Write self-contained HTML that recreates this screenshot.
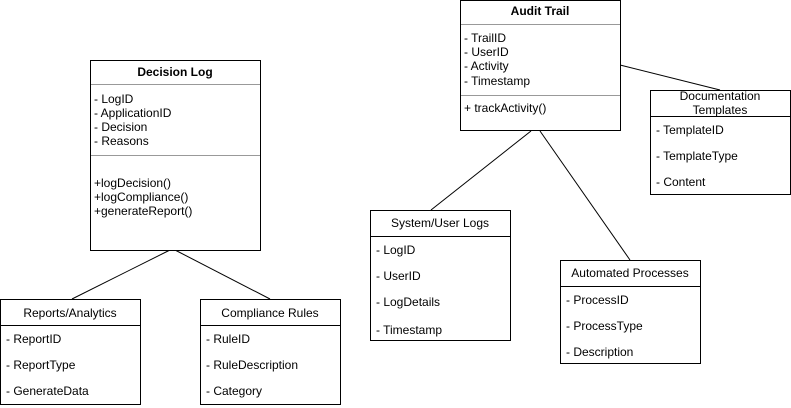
<!DOCTYPE html>
<html><head><meta charset="utf-8"><style>
html,body{margin:0;padding:0;background:#fff;}
svg{display:block;}
text{font-family:"Liberation Sans",Arial,sans-serif;font-size:12px;fill:#000;}
.b{font-weight:bold;}
</style></head><body>
<svg width="791" height="408" viewBox="0 0 791 408" xmlns="http://www.w3.org/2000/svg">
<g stroke="#000" stroke-width="1" fill="none">
<line x1="170" y1="250" x2="72" y2="299"/>
<line x1="175" y1="250" x2="270" y2="299"/>
<line x1="620" y1="65" x2="720" y2="90"/>
<line x1="531" y1="131" x2="431" y2="210"/>
<line x1="540" y1="131" x2="630" y2="260"/>
</g>
<g stroke="#000" stroke-width="1" fill="#fff">
<rect x="90.5" y="60.5" width="170" height="190"/>
<rect x="0.5" y="299.5" width="140" height="105"/>
<rect x="200.5" y="299.5" width="140" height="105"/>
<rect x="460.5" y="0.5" width="160" height="130"/>
<rect x="650.5" y="90.5" width="140" height="104"/>
<rect x="370.5" y="210.5" width="140" height="130"/>
<rect x="560.5" y="260.5" width="140" height="103"/>
</g>
<g stroke="#000" stroke-width="1">
<line x1="0" y1="325.5" x2="141" y2="325.5"/>
<line x1="200" y1="325.5" x2="341" y2="325.5"/>
<line x1="650" y1="116.5" x2="791" y2="116.5"/>
<line x1="370" y1="236.5" x2="511" y2="236.5"/>
<line x1="560" y1="286.5" x2="701" y2="286.5"/>
</g>
<g stroke="#999" stroke-width="1">
<line x1="91" y1="84.5" x2="260" y2="84.5"/>
<line x1="91" y1="155.5" x2="260" y2="155.5"/>
<line x1="461" y1="24.5" x2="620" y2="24.5"/>
<line x1="461" y1="95.5" x2="620" y2="95.5"/>
</g>
<text class="b" x="175" y="76" text-anchor="middle">Decision Log</text>
<text x="94" y="103">- LogID</text>
<text x="94" y="117">- ApplicationID</text>
<text x="94" y="131">- Decision</text>
<text x="94" y="145">- Reasons</text>
<text x="94" y="187">+logDecision()</text>
<text x="94" y="201">+logCompliance()</text>
<text x="94" y="215">+generateReport()</text>

<text x="70" y="317" text-anchor="middle">Reports/Analytics</text>
<text x="6" y="343">- ReportID</text>
<text x="6" y="369">- ReportType</text>
<text x="6" y="395">- GenerateData</text>

<text x="270" y="317" text-anchor="middle">Compliance Rules</text>
<text x="206" y="343">- RuleID</text>
<text x="206" y="369">- RuleDescription</text>
<text x="206" y="395">- Category</text>

<text class="b" x="540" y="15" text-anchor="middle">Audit Trail</text>
<text x="464" y="42">- TrailID</text>
<text x="464" y="56">- UserID</text>
<text x="464" y="70">- Activity</text>
<text x="464" y="85">- Timestamp</text>
<text x="464" y="112">+ trackActivity()</text>

<text x="720" y="100" text-anchor="middle">Documentation</text>
<text x="720" y="114" text-anchor="middle">Templates</text>
<text x="656" y="134">- TemplateID</text>
<text x="656" y="160">- TemplateType</text>
<text x="656" y="186">- Content</text>

<text x="440" y="227" text-anchor="middle">System/User Logs</text>
<text x="376" y="254">- LogID</text>
<text x="376" y="280">- UserID</text>
<text x="376" y="306">- LogDetails</text>
<text x="376" y="334">- Timestamp</text>

<text x="630" y="277" text-anchor="middle">Automated Processes</text>
<text x="566" y="304">- ProcessID</text>
<text x="566" y="330">- ProcessType</text>
<text x="566" y="356">- Description</text>
</svg>
</body></html>
